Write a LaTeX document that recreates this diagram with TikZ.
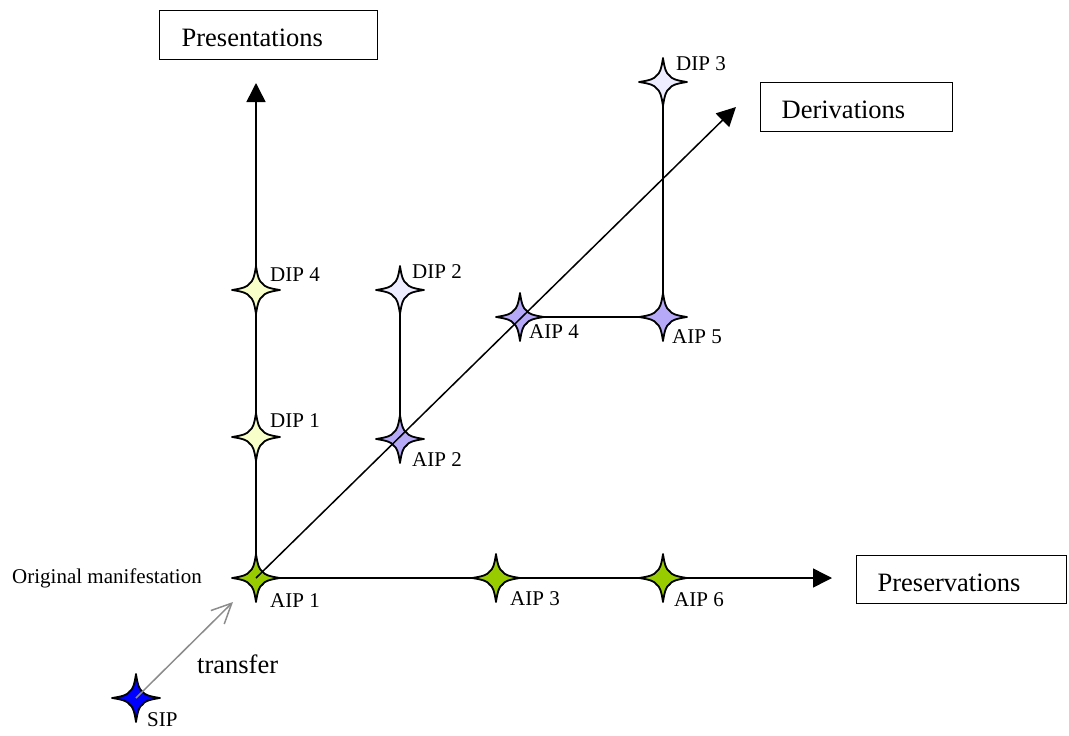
\documentclass[tikz,border=0pt]{standalone}
\usepackage{fontspec}
\setmainfont{Liberation Serif}
\usetikzlibrary{arrows.meta}
\definecolor{aipgreen}{RGB}{153,204,0}
\definecolor{dipyellow}{RGB}{248,255,200}
\definecolor{diplav}{RGB}{238,236,255}
\definecolor{aiplav}{RGB}{182,170,248}
\definecolor{sipblue}{RGB}{0,0,255}
\definecolor{transgray}{RGB}{140,140,140}
\tikzset{
  pics/fourstar/.style={code={
    \draw[line width=1.8pt, fill=#1, line join=round]
      (0,-24) .. controls (1.5,-14) and (3,-8.5) .. (6.5,-6.5)
      .. controls (8.5,-3) and (14,-1.5) .. (24,0)
      .. controls (14,1.5) and (8.5,3) .. (6.5,6.5)
      .. controls (3,8.5) and (1.5,14) .. (0,24)
      .. controls (-1.5,14) and (-3,8.5) .. (-6.5,6.5)
      .. controls (-8.5,3) and (-14,1.5) .. (-24,0)
      .. controls (-14,-1.5) and (-8.5,-3) .. (-6.5,-6.5)
      .. controls (-3,-8.5) and (-1.5,-14) .. cycle;
  }},
  axisline/.style={line width=1.5pt, draw=black},
  axisarrow/.style={axisline, -{Triangle[length=19pt,width=19pt]}},
  boxnode/.style={draw, line width=1.3pt, anchor=north west, align=left,
    font=\fontsize{26.5}{30}\selectfont, text height=23pt, text depth=0pt},
  lbl/.style={anchor=base west, inner sep=0pt, font=\fontsize{21}{24}\selectfont},
  bigtxt/.style={anchor=base west, inner sep=0pt, font=\fontsize{26.5}{30}\selectfont},
}
\begin{document}
\begin{tikzpicture}[x=1pt,y=-1pt]
\useasboundingbox (0,0) rectangle (1069,736);
% boxes
\node[boxnode, minimum height=49pt, inner xsep=22pt, text width=174pt] (pres) at (159,10) {Presentations};
\node[boxnode, minimum height=49pt, inner xsep=21pt, text width=150pt] (deriv) at (760,82) {Derivations};
\node[boxnode, minimum height=48pt, inner xsep=21pt, text width=168pt] (preserv) at (856,555) {Preservations};
% star centres
\coordinate (aip1) at (256,578);
\coordinate (dip1) at (256,437);
\coordinate (dip4) at (256,290);
\coordinate (dip2) at (400,290);
\coordinate (aip2) at (400,439);
\coordinate (aip4) at (520,317);
\coordinate (aip5) at (663,317);
\coordinate (dip3) at (663,82);
\coordinate (aip3) at (496,578);
\coordinate (aip6) at (663,578);
\coordinate (sip)  at (136,698);
% arrow ends
\coordinate (ptip) at (256,83);
\coordinate (htip) at (832,578);
\coordinate (dtip) at (736,107);
\coordinate (ttip) at (233,602);
% straight lines
\draw[axisarrow] (aip1) -- (ptip);
\draw[axisarrow] (aip1) -- (htip);
\draw[axisline] (dip2) -- (aip2);
\draw[axisline] (aip4) -- (aip5);
\draw[axisline] (aip5) -- (dip3);
% stars
\pic at (aip1) {fourstar=aipgreen};
\pic at (aip3) {fourstar=aipgreen};
\pic at (aip6) {fourstar=aipgreen};
\pic at (dip1) {fourstar=dipyellow};
\pic at (dip4) {fourstar=dipyellow};
\pic at (dip2) {fourstar=diplav};
\pic at (dip3) {fourstar=diplav};
\pic at (aip2) {fourstar=aiplav};
\pic at (aip4) {fourstar=aiplav};
\pic at (aip5) {fourstar=aiplav};
\pic at (sip) {fourstar=sipblue};
% diagonal and transfer
\draw[axisarrow] (aip1) -- (dtip);
\draw[line width=1.5pt, draw=transgray, -{Straight Barb[length=20pt,width=19pt]}] (sip) -- (ttip);
% labels
\node[lbl] (ldip4) at (270,281) {DIP 4};
\node[lbl] (ldip1) at (270,427) {DIP 1};
\node[lbl] (ldip2) at (412,278) {DIP 2};
\node[lbl] (ldip3) at (676,70) {DIP 3};
\node[lbl] (laip1) at (270,607) {AIP 1};
\node[lbl] (laip3) at (510,605) {AIP 3};
\node[lbl] (laip6) at (674,606) {AIP 6};
\node[lbl] (laip2) at (412,466) {AIP 2};
\node[lbl] (laip4) at (529,338) {AIP 4};
\node[lbl] (laip5) at (672,343) {AIP 5};
\node[lbl] (lsip) at (147,726) {SIP};
\node[lbl] (lorig) at (12,583) {Original manifestation};
\node[bigtxt] (ltrans) at (197,673) {transfer};
\end{tikzpicture}
\end{document}
